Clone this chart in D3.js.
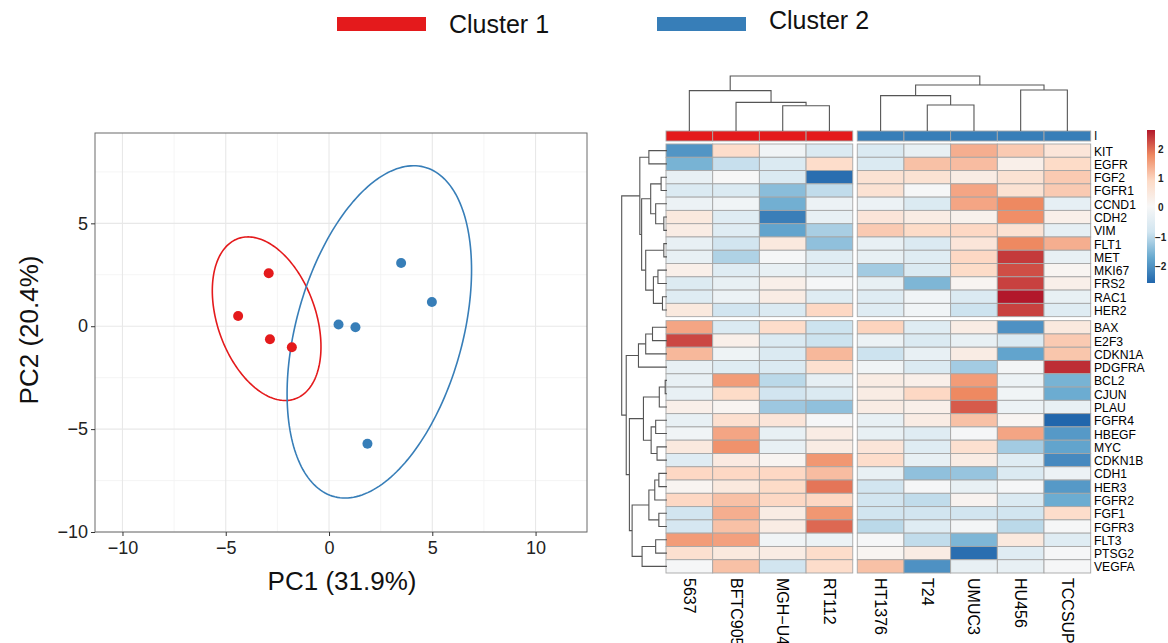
<!DOCTYPE html>
<html>
<head>
<meta charset="utf-8">
<script src="https://cdn.jsdelivr.net/npm/d3@7"></script>
<style>
  body { margin: 0; background: #fff; }
  svg { display: block; font-family: "Liberation Sans", Arial, Helvetica, sans-serif; }
</style>
</head>
<body>
<svg id="chart" width="1168" height="643"></svg>
<script>
// ---- data ----------------------------------------------------------------
const clusterNames = ["Cluster 1", "Cluster 2"];
const clusterColors = ["#E41A1C", "#377EB8"];

// PCA scores (one point per cell line)
const pcaCluster = [1, 1, 1, 1, 2, 2, 2, 2, 2];
const pc1 = [-2.92, -4.40, -2.86, -1.80, 3.49, 4.98, 0.46, 1.28, 1.86];
const pc2 = [2.57, 0.50, -0.63, -1.02, 3.07, 1.18, 0.08, -0.05, -5.71];

// confidence ellipses: centre + spread (sxx, syy, sxy) per cluster
const ellCx = [-3.02, 2.435];
const ellCy = [0.365, -0.275];
const ellSxx = [6.92, 19.94];
const ellSyy = [15.8, 65.2];
const ellSxy = [-3.58, 13.44];

const pcaXTicks = [-10, -5, 0, 5, 10];
const pcaYTicks = [-10, -5, 0, 5];
const pcaXDomain = [-11.33, 12.49];
const pcaYDomain = [-10, 9.39];

// heatmap
const samples = ["5637", "BFTC905", "MGH\u2212U4", "RT112", "HT1376", "T24", "UMUC3", "HU456", "TCCSUP"];
const sampleCluster = [1, 1, 1, 1, 2, 2, 2, 2, 2];
const genes = ["KIT", "EGFR", "FGF2", "FGFR1", "CCND1", "CDH2", "VIM", "FLT1", "MET", "MKI67", "FRS2", "RAC1", "HER2",
  "BAX", "E2F3", "CDKN1A", "PDGFRA", "BCL2", "CJUN", "PLAU", "FGFR4", "HBEGF", "MYC", "CDKN1B", "CDH1", "HER3",
  "FGFR2", "FGF1", "FGFR3", "FLT3", "PTSG2", "VEGFA"];
const geneGroupSize = 13; // rows before the gap
const expr = [
  // 5637  BFTC  MGH   RT112 HT1376 T24  UMUC3 HU456 TCCSUP
  [-1.95, 0.85, -0.10, -0.60, -0.60, -0.30, 1.40, 1.10, 0.60],  // KIT
  [-1.55, -0.90, -0.60, 0.85, -0.60, 1.20, 1.25, 0.30, 0.90],   // EGFR
  [-0.30, 0.05, -0.60, -2.45, 0.70, 0.70, 0.40, 0.70, 1.10],    // FGF2
  [-0.60, -0.60, -1.40, -0.95, 0.70, 0.00, 1.50, 0.70, 1.10],   // FGFR1
  [-0.20, -0.10, -1.60, -0.20, -0.20, -0.60, 1.50, 1.80, -0.35],// CCND1
  [0.50, -0.50, -2.25, -0.30, 0.60, 0.40, 0.25, 1.75, 0.30],    // CDH2
  [0.40, -0.50, -1.75, -1.15, 1.10, 0.90, 0.95, 0.70, -0.35],   // VIM
  [-0.30, -0.80, 0.50, -1.35, -0.30, -0.60, 0.60, 1.80, 1.40],  // FLT1
  [-0.30, -1.10, 0.00, -0.50, -0.30, -0.50, 0.95, 2.40, -0.30], // MET
  [0.30, -0.50, -0.30, -0.50, -1.20, -0.60, 0.90, 2.25, 0.15],  // MKI67
  [-0.55, -0.30, 0.30, 0.00, -0.30, -1.50, 0.15, 2.35, 0.30],   // FRS2
  [-0.50, -0.20, 0.40, -0.50, -0.50, -0.10, -0.60, 2.66, -0.30],// RAC1
  [0.50, -0.80, -0.60, 0.95, -0.50, -0.10, -0.85, 2.35, -0.50], // HER2
  [1.50, -0.60, 0.85, -0.85, 1.00, -0.50, 0.40, -2.00, 0.50],   // BAX
  [2.30, 0.30, -0.60, -0.85, -0.20, -0.60, -0.30, -0.60, 1.10], // E2F3
  [1.30, -0.15, -0.60, 1.30, -0.85, -0.30, 0.40, -1.75, 1.15],  // CDKN1A
  [-0.30, -0.50, -0.60, 0.75, -0.10, -0.60, -1.20, -0.05, 2.50],// PDGFRA
  [-0.30, 1.60, -1.00, -0.35, 0.40, 0.30, 1.60, -0.20, -1.55],  // BCL2
  [-0.30, 0.90, -0.80, -0.60, 0.40, 0.95, 1.80, -0.10, -1.65],  // CJUN
  [0.30, 0.15, -1.25, -1.35, 0.40, 0.30, 2.15, -0.20, -0.30],   // PLAU
  [-0.30, 0.75, 0.60, 0.00, -0.30, 0.40, 1.20, 0.15, -2.56],    // FGFR4
  [-0.10, 1.50, -0.30, 0.40, -0.30, -0.50, 0.00, 1.50, -1.90],  // HBEGF
  [0.50, 1.70, -0.30, 0.40, 0.60, -0.50, 0.75, -1.20, -1.75],   // MYC
  [-0.50, 0.45, 0.15, 1.65, 0.85, -0.30, 0.40, -0.50, -2.10],   // CDKN1B
  [0.95, 0.95, 0.95, 1.25, -0.30, -1.35, -1.30, -0.60, -0.20],  // CDH1
  [0.15, 0.50, 0.90, 1.95, -0.80, 0.00, -0.30, 0.00, -1.90],    // HER3
  [0.95, 1.20, 0.95, 0.95, -0.80, -0.95, 0.20, -0.60, -1.65],   // FGFR2
  [-0.80, 1.40, 0.40, 1.65, -0.80, -0.80, -0.80, -0.80, 0.85],  // FGF1
  [-0.70, 1.20, 0.40, 2.05, -1.00, -0.50, -0.05, -1.00, 0.00],  // FGFR3
  [1.60, 1.55, -0.10, -0.20, 0.00, -0.95, -1.50, 0.50, -0.50],  // FLT3
  [0.75, 0.50, 0.40, 0.85, 0.15, 0.40, -2.45, -0.50, 0.00],     // PTSG2
  [0.00, 1.20, -0.80, 0.85, 1.20, -2.00, -0.30, -0.30, 0.00]    // VEGFA
];
const colorMin = -2.56, colorMax = 2.66;
const legendTicks = [-2, -1, 0, 1, 2];

// dendrograms: node(a, b, height), height relative to the root (= 1)
function leaf(v) { return typeof v === "string" ? { name: v, h: 0 } : v; }
function node(a, b, h) { return { children: [leaf(a), leaf(b)], h: h }; }

const colTree = node(
  node("5637", node("BFTC905", node("MGH\u2212U4", "RT112", 0.46), 0.52), 0.735),
  node(node("HT1376", node("T24", "UMUC3", 0.473), 0.644), node("HU456", "TCCSUP", 0.745), 0.836),
  1);

const rowTree = node(
  node(
    node("KIT", "EGFR", 0.40),
    node(
      node(node("FGF2", "FGFR1", 0.13), node("CCND1", node("CDH2", "VIM", 0.07), 0.25), 0.36),
      node(node("FLT1", "MET", 0.07), node(node("MKI67", "FRS2", 0.20), node("RAC1", "HER2", 0.10), 0.30), 0.47),
      0.56),
    0.60),
  node(
    node(node(node("BAX", "E2F3", 0.32), "CDKN1A", 0.47), "PDGFRA", 0.63),
    node(
      node(
        node(node("BCL2", "CJUN", 0.04), "PLAU", 0.17),
        node(node("FGFR4", "HBEGF", 0.25), node("MYC", "CDKN1B", 0.22), 0.35),
        0.52),
      node(
        node(node(node("CDH1", "HER3", 0.18), "FGFR2", 0.27), node("FGF1", "FGFR3", 0.18), 0.40),
        node(node("FLT3", "PTSG2", 0.25), "VEGFA", 0.55),
        0.77),
      0.83),
    0.90),
  1);

// ---- drawing -------------------------------------------------------------
const svg = d3.select("#chart");
const minus = d => (d < 0 ? "\u2212" + Math.abs(d) : String(d));

// legend on top
const legend = svg.append("g");
[[337, 33], [657, 29]].forEach(([lx, ty], i) => {
  legend.append("rect").attr("x", lx).attr("y", 17).attr("width", 89).attr("height", 14)
    .attr("fill", clusterColors[i]);
  legend.append("text").attr("x", lx + 112).attr("y", ty).attr("font-size", 25)
    .attr("fill", "#111").text(clusterNames[i]);
});

// PCA scatter
const px = d3.scaleLinear().domain(pcaXDomain).range([95, 587]);
const py = d3.scaleLinear().domain(pcaYDomain).range([532, 133]);
const pca = svg.append("g");

const minorX = d3.range(-10, 12.5, 2.5).filter(v => v % 5 !== 0);
const minorY = d3.range(-10, 10, 2.5).filter(v => v % 5 !== 0);
pca.selectAll(".gxm").data(minorX).join("line")
  .attr("x1", d => px(d)).attr("x2", d => px(d)).attr("y1", 133).attr("y2", 532)
  .attr("stroke", "#f3f3f3").attr("stroke-width", 0.8);
pca.selectAll(".gym").data(minorY).join("line")
  .attr("y1", d => py(d)).attr("y2", d => py(d)).attr("x1", 95).attr("x2", 587)
  .attr("stroke", "#f3f3f3").attr("stroke-width", 0.8);
pca.selectAll(".gx").data(pcaXTicks).join("line")
  .attr("x1", d => px(d)).attr("x2", d => px(d)).attr("y1", 133).attr("y2", 532)
  .attr("stroke", "#e8e8e8").attr("stroke-width", 1.1);
pca.selectAll(".gy").data(pcaYTicks).join("line")
  .attr("y1", d => py(d)).attr("y2", d => py(d)).attr("x1", 95).attr("x2", 587)
  .attr("stroke", "#e8e8e8").attr("stroke-width", 1.1);

// ellipses
const ellLine = d3.line().x(d => px(d[0])).y(d => py(d[1]));
ellCx.forEach((cx, i) => {
  const sx = Math.sqrt(ellSxx[i]);
  const k = ellSxy[i] / sx;
  const r = Math.sqrt(ellSyy[i] - k * k);
  const pts = d3.range(0, 201).map(j => {
    const t = (j / 200) * 2 * Math.PI;
    return [cx + sx * Math.cos(t), ellCy[i] + k * Math.cos(t) + r * Math.sin(t)];
  });
  pca.append("path").attr("d", ellLine(pts)).attr("fill", "none")
    .attr("stroke", clusterColors[i]).attr("stroke-width", 1.6);
});

pca.selectAll("circle").data(pc1).join("circle")
  .attr("cx", d => px(d)).attr("cy", (d, i) => py(pc2[i])).attr("r", 5)
  .attr("fill", (d, i) => clusterColors[pcaCluster[i] - 1]);

pca.append("rect").attr("x", 95).attr("y", 133).attr("width", 492).attr("height", 399)
  .attr("fill", "none").attr("stroke", "#6b6b6b").attr("stroke-width", 1);

const xAxis = pca.append("g").attr("transform", "translate(0,532)")
  .call(d3.axisBottom(px).tickValues(pcaXTicks).tickSize(4).tickPadding(5).tickFormat(minus));
const yAxis = pca.append("g").attr("transform", "translate(95,0)")
  .call(d3.axisLeft(py).tickValues(pcaYTicks).tickSize(4).tickPadding(3).tickFormat(minus));
[xAxis, yAxis].forEach(a => {
  a.select(".domain").remove();
  a.selectAll("line").attr("stroke", "#333");
  a.selectAll("text").attr("font-size", 18).attr("fill", "#222")
    .attr("font-family", "Liberation Sans, Arial, sans-serif");
});

pca.append("text").attr("x", 342).attr("y", 590).attr("text-anchor", "middle")
  .attr("font-size", 26).attr("fill", "#111").text("PC1 (31.9%)");
pca.append("text").attr("transform", "translate(38,330) rotate(-90)").attr("text-anchor", "middle")
  .attr("font-size", 26).attr("fill", "#111").text("PC2 (20.4%)");

// heatmap
const colGap = 4.5, rowGap = 4;
const cx = d3.scaleBand().domain(samples).range([666, 1090.7 - colGap]);
const cy = d3.scaleBand().domain(genes).range([144, 573 - rowGap]);
const colX = s => cx(s) + (sampleCluster[samples.indexOf(s)] === 2 ? colGap : 0);
const rowY = g => cy(g) + (genes.indexOf(g) >= geneGroupSize ? rowGap : 0);

const rdbu = d3.schemeRdBu[7].slice().reverse();
const color = d3.scaleLinear()
  .domain(d3.range(7).map(i => colorMin + (i / 6) * (colorMax - colorMin)))
  .range(rdbu);

const hm = svg.append("g");
const cells = [];
genes.forEach((g, r) => samples.forEach((s, c) => cells.push({ g, s, v: expr[r][c] })));
hm.selectAll("rect.cell").data(cells).join("rect").attr("class", "cell")
  .attr("x", d => colX(d.s)).attr("y", d => rowY(d.g))
  .attr("width", cx.bandwidth()).attr("height", cy.bandwidth())
  .attr("fill", d => color(d.v)).attr("stroke", "#a6a6a6").attr("stroke-width", 0.9);

// annotation bar
hm.selectAll("rect.ann").data(samples).join("rect").attr("class", "ann")
  .attr("x", d => colX(d)).attr("y", 131).attr("width", cx.bandwidth()).attr("height", 10)
  .attr("fill", (d, i) => clusterColors[sampleCluster[i] - 1])
  .attr("stroke", "#a6a6a6").attr("stroke-width", 0.9);
hm.append("text").attr("x", 1094).attr("y", 140).attr("font-size", 12).attr("fill", "#111").text("I");

// row labels (narrow, tall glyphs like the original)
hm.selectAll("text.rl").data(genes).join("text").attr("class", "rl")
  .attr("transform", d => `translate(1094,${rowY(d) + cy.bandwidth() / 2 + 5}) scale(0.84,0.92)`)
  .attr("font-size", 14.5).attr("fill", "#000").text(d => d);

// column labels
hm.selectAll("text.cl").data(samples).join("text").attr("class", "cl")
  .attr("transform", d => `translate(${colX(d) + cx.bandwidth() / 2 - 5.5},578) rotate(90)`)
  .attr("font-size", 16).attr("fill", "#000").text(d => d);

// dendrograms
function layoutTree(tree, leafPos) {
  const root = d3.hierarchy(tree);
  root.eachAfter(n => {
    n.pos = n.children ? d3.mean(n.children, c => c.pos) : leafPos(n.data.name);
  });
  return root;
}

const colRoot = layoutTree(colTree, name => colX(name) + cx.bandwidth() / 2);
const colH = d3.scaleLinear().domain([0, 1]).range([131, 76]);
hm.append("g").selectAll("path").data(colRoot.descendants().filter(n => n.children)).join("path")
  .attr("d", n => {
    const [a, b] = n.children;
    return `M${a.pos},${colH(a.data.h)}V${colH(n.data.h)}H${b.pos}V${colH(b.data.h)}`;
  })
  .attr("fill", "none").attr("stroke", "#555").attr("stroke-width", 1.1);

const rowRoot = layoutTree(rowTree, name => rowY(name) + cy.bandwidth() / 2);
const rowH = d3.scaleLinear().domain([0, 1]).range([667, 621.7]);
hm.append("g").selectAll("path").data(rowRoot.descendants().filter(n => n.children)).join("path")
  .attr("d", n => {
    const [a, b] = n.children;
    return `M${rowH(a.data.h)},${a.pos}H${rowH(n.data.h)}V${b.pos}H${rowH(b.data.h)}`;
  })
  .attr("fill", "none").attr("stroke", "#555").attr("stroke-width", 1.1);

// colour key
const keyY = d3.scaleLinear().domain([colorMin, colorMax]).range([283, 130]);
const grad = svg.append("defs").append("linearGradient").attr("id", "key")
  .attr("x1", 0).attr("y1", 1).attr("x2", 0).attr("y2", 0);
rdbu.forEach((c, i) => grad.append("stop").attr("offset", i / 6).attr("stop-color", c));
svg.append("rect").attr("x", 1147).attr("y", 130).attr("width", 8).attr("height", 153)
  .attr("fill", "url(#key)");
svg.selectAll("text.key").data(legendTicks).join("text").attr("class", "key")
  .attr("x", d => (d < 0 ? 1155 : 1158)).attr("y", d => keyY(d) + 3.5)
  .attr("font-size", 10).attr("font-weight", "bold").attr("fill", "#222")
  .text(d => (d < 0 ? "\u2212" + Math.abs(d) : d));
</script>
</body>
</html>
